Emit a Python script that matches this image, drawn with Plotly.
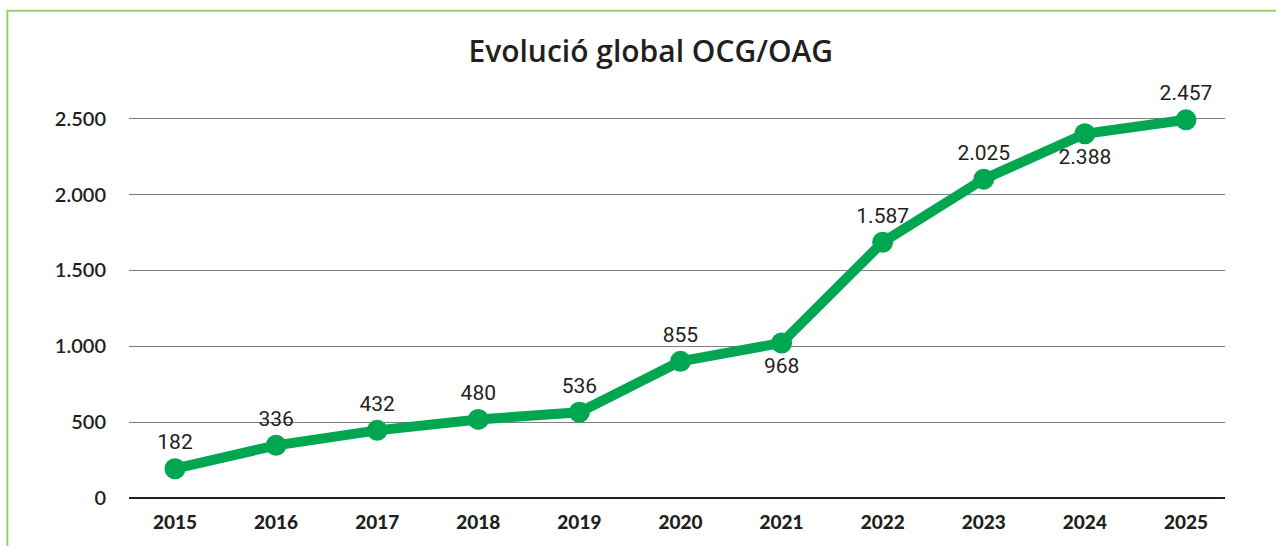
import plotly.graph_objects as go

# years and the numbers printed on the chart
years = [2015, 2016, 2017, 2018, 2019, 2020, 2021, 2022, 2023, 2024, 2025]
values = [182, 336, 432, 480, 536, 855, 968, 1587, 2025, 2388, 2457]
# heights at which the points are actually drawn in the picture
plotted = [193, 347, 446, 518, 565, 901, 1022, 1686, 2102, 2401, 2493]
label_pos = ["top center"] * 6 + ["bottom center", "top center", "top center", "bottom center", "top center"]
y_ticks = [0, 500, 1000, 1500, 2000, 2500]

green = "#00A650"
labels = [f"{v:,}".replace(",", ".") for v in values]

fig = go.Figure()
fig.add_trace(go.Scatter(
    x=years, y=plotted, mode="lines+markers+text",
    line=dict(color=green, width=10),
    marker=dict(color=green, size=21),
    text=labels, textposition=label_pos,
    textfont=dict(family="Liberation Sans Narrow, Roboto", size=21, color="#231f20"),
    cliponaxis=False, showlegend=False,
))

fig.update_layout(
    width=1276, height=546,
    margin=dict(l=129, r=51, t=96, b=48),
    plot_bgcolor="white", paper_bgcolor="white",
    separators=",.",
    title=dict(text="Evolució global OCG/OAG", x=0.51, xanchor="center", y=0.905, yanchor="middle",
               font=dict(family="Open Sans", size=30, color="#231f20", weight=600)),
    xaxis=dict(range=[2014.545, 2025.386], tickvals=years, showgrid=False, showline=False,
               zeroline=False, ticks="", ticklabelstandoff=11,
               tickfont=dict(family="Lato", size=19, color="#231f20", weight=900)),
    yaxis=dict(range=[0, 2650], tickvals=y_ticks, tickformat=",d",
               showgrid=True, gridcolor="#7f7f7f", gridwidth=1,
               zeroline=True, zerolinecolor="#231f20", zerolinewidth=2,
               ticks="", ticklabelstandoff=22,
               tickfont=dict(family="Lato", size=20, color="#231f20", weight=600)),
)

# light green frame around the chart
fig.add_shape(type="rect", xref="paper", yref="paper", x0=-0.111, x1=1.2, y0=-0.3, y1=1.212,
              line=dict(color="#92D36E", width=2), layer="below")

fig.write_html("out.html", config={"displayModeBar": False},
               post_script="document.body.style.margin='0';")
